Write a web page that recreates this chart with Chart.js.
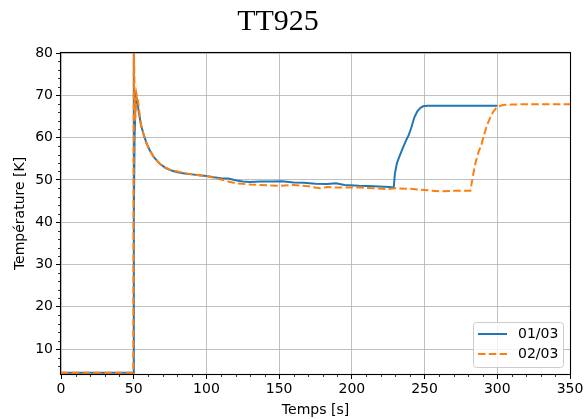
<!DOCTYPE html>
<html>
<head>
<meta charset="utf-8">
<script src="https://cdn.jsdelivr.net/npm/chart.js@4"></script>
<style>
  html, body { margin: 0; padding: 0; background: #fff; }
  #wrap { width: 584px; height: 419px; }
</style>
</head>
<body>
<div id="wrap"><canvas id="tt925" width="584" height="419"></canvas></div>
<script>
const titre = 'TT925'
const nomsSeries = ['01/03', '02/03']

// 01/03
const temps1 = [0, 49.6, 50.0, 50.15, 50.6, 51.4, 52.3, 53.5, 55, 57, 59, 61, 64, 68, 72, 76, 80, 85, 90, 95, 100, 105, 110, 115, 120, 125, 130, 137, 145, 152, 160, 167, 175, 183, 189, 195, 205, 215, 226, 228.8, 229.6, 231, 233, 235, 237.5, 239, 241, 243, 245, 247, 249, 252, 256, 300]
const temp1 = [4.4, 4.4, 84, 41, 60, 70, 69, 66, 63, 60.5, 58.5, 57, 55.3, 53.8, 52.8, 52.2, 51.8, 51.5, 51.3, 51.1, 50.9, 50.6, 50.4, 50.3, 49.9, 49.6, 49.5, 49.6, 49.6, 49.7, 49.4, 49.3, 49.1, 49.0, 49.2, 48.8, 48.6, 48.5, 48.3, 48.2, 51.5, 54, 55.8, 57.5, 59.5, 60.5, 62.5, 64.8, 66.2, 67.0, 67.4, 67.5, 67.5, 67.5]

// 02/03
const temps2 = [0, 49.7, 50.1, 50.9, 52, 53, 55, 57, 59, 61, 64, 68, 72, 76, 80, 85, 90, 95, 100, 105, 110, 115, 120, 130, 137, 150, 160, 170, 178, 183, 190, 196, 206, 215, 224, 230, 240, 250, 260, 270, 281.5, 283, 285, 287, 289, 291, 293, 295, 297, 299, 301, 304, 310, 320, 350]
const temp2 = [4.4, 4.4, 82, 64, 70.2, 68.5, 63, 60.5, 58.5, 57, 55.3, 53.8, 52.8, 52.3, 52.0, 51.6, 51.3, 51.1, 50.9, 50.5, 50.1, 49.6, 49.2, 48.9, 48.8, 48.6, 48.8, 48.5, 48.0, 48.3, 48.2, 48.2, 48.2, 48.0, 47.8, 48.0, 47.9, 47.6, 47.3, 47.4, 47.4, 50.5, 54, 56.5, 58.2, 60.8, 63, 64.6, 66, 66.9, 67.4, 67.7, 67.8, 67.9, 67.9]

const ticksX = [0, 50, 100, 150, 200, 250, 300, 350]
const ticksY = [10, 20, 30, 40, 50, 60, 70, 80]

const bleu = '#1f77b4'
const orange = '#ff7f0e'

const pts = (xs, ys) => xs.map((x, i) => ({x: x, y: ys[i]}))

// cadre, petites graduations, titre et légende façon matplotlib
const habillage = {
  id: 'habillage',
  afterDraw(chart) {
    const ctx = chart.ctx
    const a = chart.chartArea
    const sx = chart.scales.x
    const sy = chart.scales.y
    ctx.save()
    ctx.strokeStyle = '#000'
    ctx.lineWidth = 0.8
    for (let v = 0; v <= 350; v += 10) {
      if (v % 50 === 0) continue
      const px = Math.round(sx.getPixelForValue(v)) + 0.5
      ctx.beginPath(); ctx.moveTo(px, a.bottom); ctx.lineTo(px, a.bottom + 3); ctx.stroke()
    }
    for (let v = 6; v < 80; v += 2) {
      if (v % 10 === 0) continue
      const py = Math.round(sy.getPixelForValue(v)) + 0.5
      ctx.beginPath(); ctx.moveTo(a.left, py); ctx.lineTo(a.left - 3, py); ctx.stroke()
    }
    ctx.lineWidth = 1.1
    ctx.strokeRect(a.left - 0.5, a.top - 0.5, a.right - a.left + 1, a.bottom - a.top + 1)

    ctx.fillStyle = '#000'
    ctx.font = '30px "Liberation Serif"'
    ctx.textAlign = 'center'
    ctx.textBaseline = 'alphabetic'
    ctx.fillText(titre, 278, 30)

    // légende
    const lx = 473.5, ly = 322.5, lw = 90, lh = 45
    ctx.fillStyle = 'rgba(255,255,255,0.8)'
    ctx.strokeStyle = '#cccccc'
    ctx.lineWidth = 1
    ctx.beginPath()
    ctx.roundRect(lx, ly, lw, lh, 3)
    ctx.fill(); ctx.stroke()
    ctx.lineWidth = 2
    ctx.strokeStyle = bleu
    ctx.beginPath(); ctx.moveTo(478, 334); ctx.lineTo(507, 334); ctx.stroke()
    ctx.strokeStyle = orange
    ctx.setLineDash([7.5, 3.3])
    ctx.beginPath(); ctx.moveTo(478, 354); ctx.lineTo(507, 354); ctx.stroke()
    ctx.setLineDash([])
    ctx.fillStyle = '#000'
    ctx.font = '14px "DejaVu Sans"'
    ctx.textAlign = 'left'
    ctx.textBaseline = 'middle'
    ctx.fillText(nomsSeries[0], 518, 334)
    ctx.fillText(nomsSeries[1], 518, 354)
    ctx.restore()
  }
}

const grille = {color: 'rgba(176,176,176,0.8)', lineWidth: 1, tickColor: '#000', tickLength: 5, tickWidth: 1}
const police = {family: 'DejaVu Sans', size: 14}

new Chart(document.getElementById('tt925'), {
  type: 'line',
  data: {
    datasets: [{
      label: nomsSeries[0],
      data: pts(temps1, temp1),
      borderColor: bleu,
      borderWidth: 2,
      pointRadius: 0,
      tension: 0,
      order: 1
    }, {
      label: nomsSeries[1],
      data: pts(temps2, temp2),
      borderColor: orange,
      borderWidth: 2,
      borderDash: [7.5, 3.3],
      pointRadius: 0,
      tension: 0,
      order: 0
    }]
  },
  options: {
    responsive: false,
    animation: false,
    events: [],
    layout: {padding: {top: 53, right: 14, left: 0, bottom: 0}},
    plugins: {legend: {display: false}, tooltip: {enabled: false}, title: {display: false}},
    scales: {
      x: {
        type: 'linear',
        min: 0,
        max: 350,
        afterBuildTicks: s => { s.ticks = ticksX.map(v => ({value: v})) },
        afterFit: s => { s.height = 45; s.paddingLeft = 0; s.paddingRight = 0 },
        grid: grille,
        border: {display: false},
        ticks: {color: '#000', font: police, padding: 2, maxRotation: 0},
        title: {display: true, text: 'Temps [s]', color: '#000', font: police, padding: {top: 0, bottom: 0}}
      },
      y: {
        type: 'linear',
        min: 4.1,
        max: 80,
        afterBuildTicks: s => { s.ticks = ticksY.map(v => ({value: v})) },
        afterFit: s => { s.width = 61; s.paddingTop = 0; s.paddingBottom = 0 },
        grid: grille,
        border: {display: false},
        ticks: {color: '#000', font: police, padding: 3},
        title: {display: true, text: 'Température [K]', color: '#000', font: police, padding: {top: 12, bottom: 0}}
      }
    }
  },
  plugins: [habillage]
})
</script>
</body>
</html>
